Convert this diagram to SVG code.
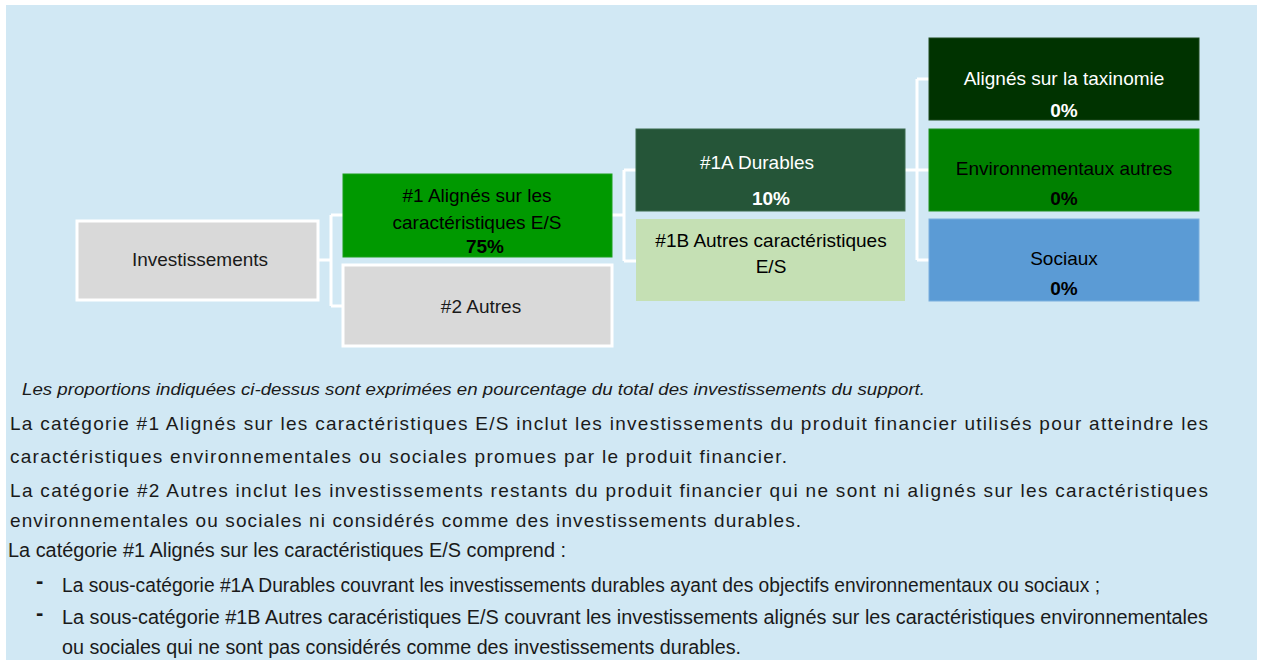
<svg xmlns="http://www.w3.org/2000/svg" width="1263" height="660" viewBox="0 0 1263 660">
<style>
.bx{font-family:"Liberation Sans",Arial,sans-serif;font-size:19px;text-anchor:middle}
.pc{font-family:"Liberation Sans",Arial,sans-serif;font-size:19px;font-weight:bold;text-anchor:middle}
.body{font-family:"Liberation Sans",Arial,sans-serif;font-size:19px;fill:#1a1a1a}
.cond{font-family:"Liberation Sans",Arial,sans-serif;font-size:19.5px;fill:#1a1a1a}
.dash{font-family:"Liberation Sans",Arial,sans-serif;font-size:22px;font-weight:bold;fill:#1a1a1a}
.it{font-family:"Liberation Sans",Arial,sans-serif;font-size:16px;font-style:italic;fill:#1a1a1a}
.conn{fill:none;stroke:#ffffff;stroke-width:3}
</style>
<rect x="0" y="0" width="1263" height="660" fill="#ffffff"/>
<rect x="6" y="5" width="1251" height="655" fill="#D1E8F4"/>

<g id="connectors">
<path class="conn" d="M318,260 H331 M331,215 V306 M331,215 H343 M331,306 H343"/>
<path class="conn" d="M612,215 H624 M624,170 V261 M624,170 H636 M624,261 H636"/>
<path class="conn" d="M905,170 H917 M917,79 V260 M917,79 H930 M917,170 H930 M917,260 H930"/>
</g>

<g id="investissements">
<rect x="77" y="221" width="241" height="79" fill="#D9D9D9" stroke="#ffffff" stroke-width="3"/>
<text class="bx" x="200" y="266" fill="#1a1a1a">Investissements</text>
</g>

<g id="n1-alignes">
<rect x="343" y="174" width="269" height="83" fill="#009900" stroke="#1aa01a" stroke-width="1"/>
<text class="bx" x="477" y="202" fill="#000000">#1 Alignés sur les</text>
<text class="bx" x="477" y="229" fill="#000000">caractéristiques E/S</text>
<text class="pc" x="485" y="253" fill="#000000">75%</text>
</g>

<g id="n2-autres">
<rect x="343" y="265" width="269" height="81" fill="#D9D9D9" stroke="#ffffff" stroke-width="3"/>
<text class="bx" x="481" y="313" fill="#1a1a1a">#2 Autres</text>
</g>

<g id="n1a-durables">
<rect x="636" y="129" width="269" height="82" fill="#255538" stroke="#3b6a4c" stroke-width="1"/>
<text class="bx" x="757" y="169" fill="#ffffff">#1A Durables</text>
<text class="pc" x="771" y="205" fill="#ffffff">10%</text>
</g>

<g id="n1b-autres">
<rect x="636" y="219" width="269" height="82" fill="#C5E0B4"/>
<text class="bx" x="771" y="247" fill="#000000">#1B Autres caractéristiques</text>
<text class="bx" x="771" y="273" fill="#000000">E/S</text>
</g>

<g id="taxinomie">
<rect x="929" y="38" width="270" height="82" fill="#003300" stroke="#1e4a1e" stroke-width="1"/>
<text class="bx" x="1064" y="85" fill="#ffffff">Alignés sur la taxinomie</text>
<text class="pc" x="1064" y="117" fill="#ffffff">0%</text>
</g>

<g id="environnementaux">
<rect x="929" y="129" width="270" height="82" fill="#008000" stroke="#1f8f1f" stroke-width="1"/>
<text class="bx" x="1064" y="175" fill="#000000">Environnementaux autres</text>
<text class="pc" x="1064" y="205" fill="#000000">0%</text>
</g>

<g id="sociaux">
<rect x="929" y="219" width="270" height="82" fill="#5B9BD5" stroke="#7aaedd" stroke-width="1"/>
<text class="bx" x="1064" y="265" fill="#000000">Sociaux</text>
<text class="pc" x="1064" y="295" fill="#000000">0%</text>
</g>

<g id="notes">
<text class="it" x="22" y="395" textLength="903" lengthAdjust="spacingAndGlyphs">Les proportions indiquées ci-dessus sont exprimées en pourcentage du total des investissements du support.</text>
<text class="body" x="10" y="430" textLength="1198" lengthAdjust="spacing">La catégorie #1 Alignés sur les caractéristiques E/S inclut les investissements du produit financier utilisés pour atteindre les</text>
<text class="body" x="10" y="463" textLength="777" lengthAdjust="spacing">caractéristiques environnementales ou sociales promues par le produit financier.</text>
<text class="body" x="10" y="497" textLength="1198" lengthAdjust="spacing">La catégorie #2 Autres inclut les investissements restants du produit financier qui ne sont ni alignés sur les caractéristiques</text>
<text class="body" x="10" y="527" textLength="791" lengthAdjust="spacing">environnementales ou sociales ni considérés comme des investissements durables.</text>
<text class="cond" x="8" y="557" textLength="558" lengthAdjust="spacingAndGlyphs">La catégorie #1 Alignés sur les caractéristiques E/S comprend :</text>
<text class="dash" x="36" y="588">-</text>
<text class="cond" x="62" y="592" textLength="1038" lengthAdjust="spacingAndGlyphs">La sous-catégorie #1A Durables couvrant les investissements durables ayant des objectifs environnementaux ou sociaux ;</text>
<text class="dash" x="36" y="620">-</text>
<text class="cond" x="62" y="624" textLength="1146" lengthAdjust="spacingAndGlyphs">La sous-catégorie #1B Autres caracéristiques E/S couvrant les investissements alignés sur les caractéristiques environnementales</text>
<text class="cond" x="62" y="654" textLength="679" lengthAdjust="spacingAndGlyphs">ou sociales qui ne sont pas considérés comme des investissements durables.</text>
</g>
</svg>
